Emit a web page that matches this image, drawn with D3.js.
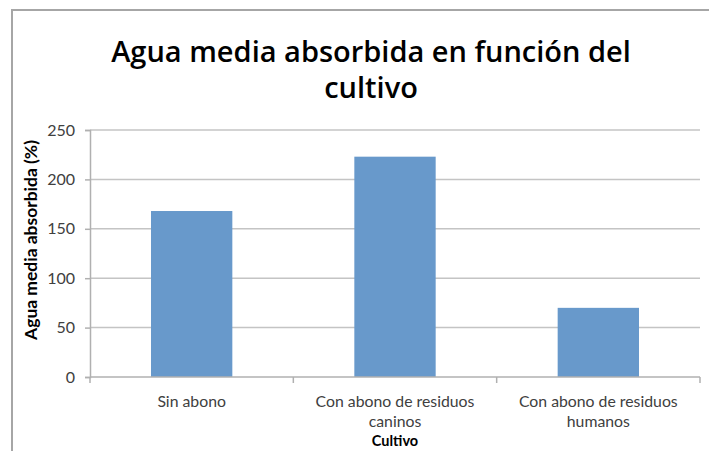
<!DOCTYPE html>
<html>
<head>
<meta charset="utf-8">
<script src="https://cdn.jsdelivr.net/npm/d3@7"></script>
<style>
  html, body { margin: 0; padding: 0; background: #fff; }
  svg { display: block; }
</style>
</head>
<body>
<svg id="chart" width="709" height="451"></svg>
<script>
// ---- data ----
const categories = [
  ["Sin abono"],
  ["Con abono de residuos", "caninos"],
  ["Con abono de residuos", "humanos"]
];
const values = [168, 223, 70];
const yTicks = [0, 50, 100, 150, 200, 250];
const titleLines = ["Agua media absorbida en función del", "cultivo"];
const yLabel = "Agua media absorbida (%)";
const xLabel = "Cultivo";

// ---- layout ----
const W = 709, H = 451;
const plot = { left: 90, right: 700, top: 130, bottom: 377 };
const font = "Lato, 'Open Sans', sans-serif";
const titleFont = "'Open Sans', Lato, sans-serif";

const svg = d3.select("#chart");

// frame (top and left edges visible)
svg.append("rect")
  .attr("x", 12).attr("y", 10)
  .attr("width", W + 20).attr("height", H + 20)
  .attr("fill", "#fff")
  .attr("stroke", "#a6a6a6").attr("stroke-width", 2);

const x = d3.scaleBand()
  .domain(d3.range(categories.length))
  .range([plot.left, plot.right])
  .paddingInner(0).paddingOuter(0);

const y = d3.scaleLinear().domain([0, 250]).range([plot.bottom, plot.top]);

// gridlines
svg.append("g")
  .selectAll("line")
  .data(yTicks.filter(d => d > 0))
  .join("line")
  .attr("x1", plot.left).attr("x2", plot.right)
  .attr("y1", d => y(d)).attr("y2", d => y(d))
  .attr("stroke", "#c4c4c4").attr("stroke-width", 1.5);

// bars: width = 40% of band (Excel gap width 150%)
const barW = x.bandwidth() * 0.4;
svg.append("g")
  .selectAll("rect")
  .data(values)
  .join("rect")
  .attr("x", (d, i) => x(i) + (x.bandwidth() - barW) / 2)
  .attr("y", d => y(d))
  .attr("width", barW)
  .attr("height", d => y(0) - y(d))
  .attr("fill", "#6899cb");

// y axis
const yAxis = d3.axisLeft(y).tickValues(yTicks).tickSize(5).tickPadding(10);
const gy = svg.append("g")
  .attr("transform", `translate(${plot.left},0)`)
  .call(yAxis);
gy.select(".domain").attr("stroke", "#b0b0b0").attr("stroke-width", 1.5);
gy.selectAll(".tick line").attr("stroke", "#b0b0b0").attr("stroke-width", 1.5);
gy.selectAll(".tick text")
  .attr("font-family", font).attr("font-size", 16).attr("fill", "#404040");

// x axis line + boundary ticks
svg.append("line")
  .attr("x1", plot.left).attr("x2", plot.right)
  .attr("y1", y(0)).attr("y2", y(0))
  .attr("stroke", "#b0b0b0").attr("stroke-width", 1.5);
const boundaries = d3.range(categories.length + 1).map(i => i < categories.length ? x(i) : plot.right);
svg.append("g").selectAll("line")
  .data(boundaries)
  .join("line")
  .attr("x1", d => d).attr("x2", d => d)
  .attr("y1", y(0)).attr("y2", y(0) + 6)
  .attr("stroke", "#b0b0b0").attr("stroke-width", 1.5);

// category labels (one text per line)
const catG = svg.append("g");
categories.forEach((lines, i) => {
  lines.forEach((ln, j) => {
    catG.append("text")
      .attr("x", x(i) + x.bandwidth() / 2)
      .attr("y", 407 + j * 19.5)
      .attr("text-anchor", "middle")
      .attr("font-family", font).attr("font-size", 15.8).attr("fill", "#404040")
      .text(ln);
  });
});

// x axis title
svg.append("text")
  .attr("x", 395).attr("y", 445.5)
  .attr("text-anchor", "middle")
  .attr("font-family", font).attr("font-size", 14.5).attr("font-weight", "bold")
  .attr("fill", "#000")
  .text(xLabel);

// y axis title
const yl = svg.append("text")
  .attr("transform", "translate(37,240) rotate(-90)")
  .attr("text-anchor", "middle")
  .attr("font-family", font).attr("font-size", 16).attr("font-weight", "bold")
  .attr("fill", "#000")
  .text(yLabel);
yl.attr("font-size", Math.min(17.5, 16 * 200 / yl.node().getComputedTextLength()));

// title
const t1 = svg.append("text")
  .attr("x", 371).attr("y", 62)
  .attr("text-anchor", "middle")
  .attr("font-family", titleFont).attr("font-weight", 600)
  .attr("font-size", 26).attr("fill", "#000")
  .text(titleLines[0]);
const fs = Math.min(29, 26 * 522 / t1.node().getComputedTextLength());
t1.attr("font-size", fs);
svg.append("text")
  .attr("x", 371).attr("y", 98)
  .attr("text-anchor", "middle")
  .attr("font-family", titleFont).attr("font-weight", 600)
  .attr("font-size", fs).attr("fill", "#000")
  .text(titleLines[1]);
</script>
</body>
</html>
